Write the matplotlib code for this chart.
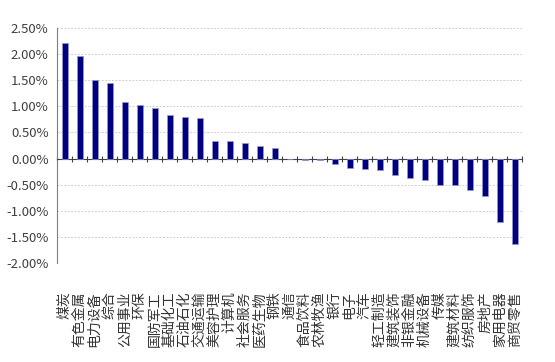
import numpy as np
import matplotlib.pyplot as plt
from matplotlib.ticker import FuncFormatter
import matplotlib.transforms as mtransforms

plt.rcParams['font.family'] = ['Noto Sans CJK SC', 'DejaVu Sans']

industries = ['煤炭', '有色金属', '电力设备', '综合', '公用事业', '环保', '国防军工',
              '基础化工', '石油石化', '交通运输', '美容护理', '计算机', '社会服务',
              '医药生物', '钢铁', '通信', '食品饮料', '农林牧渔', '银行', '电子',
              '汽车', '轻工制造', '建筑装饰', '非银金融', '机械设备', '传媒',
              '建筑材料', '纺织服饰', '房地产', '家用电器', '商贸零售']
returns = [2.21, 1.97, 1.51, 1.44, 1.09, 1.03, 0.96, 0.83, 0.79, 0.77, 0.33,
           0.33, 0.29, 0.24, 0.21, 0.0, -0.02, -0.02, -0.11, -0.19, -0.20,
           -0.22, -0.32, -0.37, -0.42, -0.51, -0.51, -0.61, -0.71, -1.22, -1.63]
yticks = [-2.0, -1.5, -1.0, -0.5, 0.0, 0.5, 1.0, 1.5, 2.0, 2.5]

fig = plt.figure(figsize=(5.55, 3.62), dpi=100)
ax = fig.add_axes([57 / 555, 1 - 263 / 362, (522 - 57) / 555, (263 - 28) / 362])

x = np.arange(len(industries))
ax.bar(x, returns, width=0.4, color='#000080', edgecolor='#9999cc', linewidth=0.5, zorder=3)

ax.set_xlim(-0.5, len(industries) - 0.5)
ax.set_ylim(-2.0, 2.5)
ax.set_yticks(yticks)
ax.yaxis.set_major_formatter(FuncFormatter(lambda v, p: f'{v:.2f}%'))
ax.tick_params(axis='y', length=0, labelsize=9.5, labelcolor='#404040', pad=6)
ax.grid(axis='y', linestyle=(0, (2, 1.5)), color='#d0d0d0', linewidth=0.7, zorder=0)

for s in ['top', 'right']:
    ax.spines[s].set_visible(False)
ax.spines['left'].set_color('#7f7f7f')
ax.spines['bottom'].set_position(('data', 0))
ax.spines['bottom'].set_color('#404040')

ax.set_xticks(np.arange(len(industries) + 1) - 0.5)
ax.set_xticklabels([])
ax.tick_params(axis='x', direction='inout', length=5, width=0.8, color='#404040')

trans = mtransforms.blended_transform_factory(ax.transData, ax.transAxes)
for xi, name in zip(x, industries):
    ax.text(xi, -0.12, name, rotation=90, ha='center', va='top', fontsize=10,
            color='#333333', transform=trans)

fig.savefig('out.png', dpi=100)
